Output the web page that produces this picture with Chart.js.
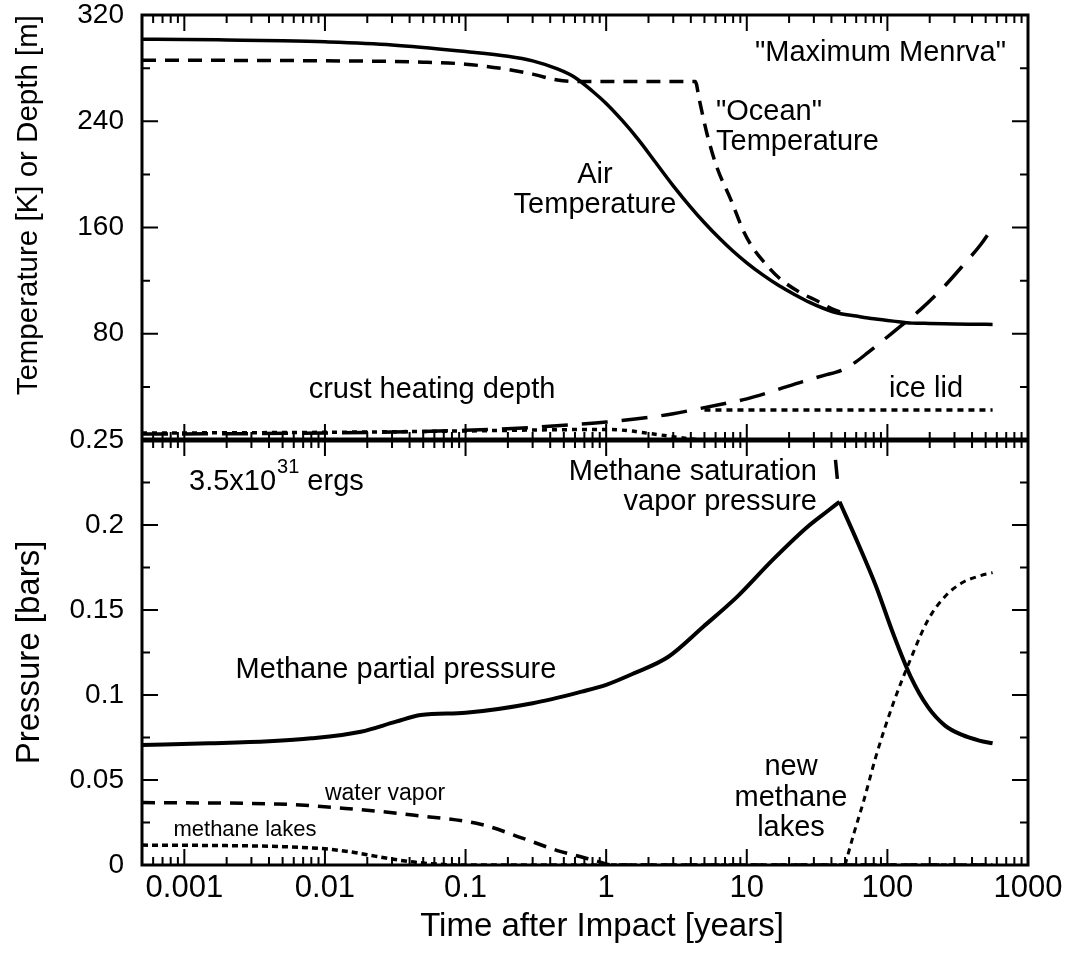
<!DOCTYPE html>
<html>
<head>
<meta charset="utf-8">
<title>Maximum Menrva</title>
<script src="https://cdn.jsdelivr.net/npm/chart.js@4.4.1/dist/chart.umd.min.js"></script>
<style>
  html, body { margin: 0; padding: 0; background: #fff; }
  #wrap { width: 1073px; height: 954px; position: relative; }
</style>
</head>
<body>
<div id="wrap"><canvas id="impactChart"></canvas></div>
<script>
// time axis, years after impact
const xMin = 0.0005;
const xMax = 1000;
const xTicks = [0.001, 0.01, 0.1, 1, 10, 100, 1000];
const xTickLabels = ['0.001', '0.01', '0.1', '1', '10', '100', '1000'];

// upper panel: temperature [K] or depth [m]
const tempTicks = [80, 160, 240, 320];
const tempTickLabels = ['80', '160', '240', '320'];
const tempMinorTicks = [40, 120, 200, 280];

// lower panel: pressure [bars]
const pressTicks = [0, 0.05, 0.1, 0.15, 0.2, 0.25];
const pressTickLabels = ['0', '0.05', '0.1', '0.15', '0.2', '0.25'];
const pressMinorTicks = [0.025, 0.075, 0.125, 0.175, 0.225];

// air temperature (K)
const airTime = [0.0005, 0.001, 0.002, 0.005, 0.01, 0.03, 0.1, 0.2, 0.3, 0.45, 0.6, 0.8, 1, 1.3, 1.7, 2.2, 3, 4, 5, 6.5, 8, 10, 13, 17, 22, 28, 35, 45, 60, 80, 110, 150, 200, 300, 400, 560];
const airTemp = [301.8, 301.6, 301.2, 300.6, 299.8, 297.5, 292.5, 289, 285.5, 279.4, 273, 262.6, 253.4, 240.6, 226, 210.3, 191.4, 175.2, 163.6, 151.1, 142.1, 133.4, 124.3, 116.1, 109.4, 103.6, 99.2, 95.4, 93.3, 91.3, 89.5, 88, 87.8, 87.4, 87.2, 87];

// "ocean" temperature (K)
const oceanTime = [0.0005, 0.01, 0.05, 0.1, 0.2, 0.3, 0.45, 0.6, 4.3, 4.6, 5.2, 6.1, 7.7, 9.6, 11, 13, 17, 24, 32, 40, 50];
const oceanTemp = [286, 285.5, 284.5, 283, 279, 275.5, 271, 270, 270, 256, 231, 206, 181, 156, 145, 135, 122, 111, 104.5, 99, 95];

// crust heating depth (m)
const crustTime = [0.0005, 0.003, 0.01, 0.03, 0.1, 0.3, 0.6, 1, 2, 3, 4.3, 7, 10, 15, 25, 35, 47, 60, 73, 108, 171, 253, 355, 460, 560];
const crustDepth = [4.5, 4.8, 5.3, 6, 7.3, 9.5, 11.6, 13.5, 17, 19.8, 23, 27.5, 31, 36.5, 44, 48.5, 52.5, 59, 66, 80.5, 98, 115.5, 133, 147, 160];

// ice lid thickness (m)
const iceTime = [5, 560];
const iceDepth = [22.5, 22.5];

// original lake depth (m)
const lakeTime = [0.0005, 0.01, 0.1, 0.3, 1, 1.5, 2, 3, 4, 4.8];
const lakeDepth = [5.2, 5.8, 6.8, 7.5, 8, 6.8, 5, 2.5, 0.8, 0];

// methane partial pressure (bars)
const methTime = [0.0005, 0.0015, 0.004, 0.008, 0.018, 0.032, 0.048, 0.1, 0.3, 0.67, 1, 1.57, 2.77, 4.88, 8.6, 15.1, 26.7, 38, 45.7, 62, 83, 110, 146, 194, 257, 340, 450, 560];
const methPress = [0.0706, 0.0716, 0.0728, 0.0745, 0.0784, 0.0843, 0.0882, 0.0896, 0.0952, 0.102, 0.106, 0.1127, 0.1225, 0.14, 0.158, 0.179, 0.1985, 0.2085, 0.2137, 0.189, 0.164, 0.136, 0.111, 0.093, 0.082, 0.0765, 0.0732, 0.0716];

// methane saturation vapor pressure (bars)
const satTime = [41.4, 45.7];
const satPress = [0.25, 0.2137];

// water vapor (bars)
const vapTime = [0.0005, 0.0045, 0.014, 0.042, 0.13, 0.25, 0.45, 0.65, 0.88, 1.1, 560];
const vapPress = [0.0367, 0.0359, 0.0333, 0.0294, 0.0238, 0.016, 0.0085, 0.005, 0.002, 0, 0];

// methane lakes (bars)
const lakesTime = [0.0005, 0.002, 0.005, 0.01, 0.015, 0.02, 0.03, 0.045, 0.07, 0.1, 560];
const lakesPress = [0.0117, 0.0114, 0.0108, 0.0095, 0.0078, 0.006, 0.0035, 0.0015, 0.0003, 0, 0];

// new methane lakes (bars)
const newLakesTime = [50, 58, 68, 83, 110, 146, 194, 257, 340, 450, 560];
const newLakesPress = [0, 0.019, 0.038, 0.064, 0.095, 0.121, 0.144, 0.158, 0.166, 0.17, 0.172];

const FONT = "'Liberation Sans', Arial, Helvetica, sans-serif";

function series(times, values) {
    return times.map((t, i) => ({ x: t, y: values[i] }));
}

function lineSet(label, points, axis, width, dash, dashOffset) {
    return {
        label: label,
        data: points,
        yAxisID: axis,
        borderColor: '#000',
        backgroundColor: '#000',
        borderWidth: width,
        borderDash: dash || [],
        borderDashOffset: dashOffset || 0,
        pointRadius: 0,
        pointHoverRadius: 0,
        cubicInterpolationMode: 'monotone',
        fill: false
    };
}

// the partial pressure peaks sharply where it meets saturation, so the
// rise and the fall are smoothed separately
const methPoints = series(methTime, methPress);
const peakIdx = methPress.indexOf(Math.max(...methPress));

// text placed inside the plot (x, baseline y in canvas pixels)
const notes = [
    { text: '"Maximum Menrva"', x: 1006, y: 61, align: 'right', size: 29 },
    { text: '"Ocean"', x: 716, y: 120, align: 'left', size: 29 },
    { text: 'Temperature', x: 716, y: 150, align: 'left', size: 29 },
    { text: 'Air', x: 595, y: 183, align: 'center', size: 29 },
    { text: 'Temperature', x: 595, y: 213, align: 'center', size: 29 },
    { text: 'crust heating depth', x: 432, y: 398, align: 'center', size: 29 },
    { text: 'ice lid', x: 926, y: 397, align: 'center', size: 29 },
    { text: 'Methane saturation', x: 817, y: 480, align: 'right', size: 29 },
    { text: 'vapor pressure', x: 817, y: 510, align: 'right', size: 29 },
    { text: 'Methane partial pressure', x: 396, y: 678, align: 'center', size: 29 },
    { text: 'water vapor', x: 385, y: 800, align: 'center', size: 23 },
    { text: 'methane lakes', x: 245, y: 836, align: 'center', size: 22 },
    { text: 'new', x: 791, y: 775, align: 'center', size: 29 },
    { text: 'methane', x: 791, y: 806, align: 'center', size: 29 },
    { text: 'lakes', x: 791, y: 836, align: 'center', size: 29 },
    { text: 'Time after Impact [years]', x: 602, y: 936, align: 'center', size: 33 }
];

// inward ticks on every side, the box and the thick divider between panels
const axesFrame = {
    id: 'axesFrame',
    afterDatasetsDraw(chart) {
        const { ctx, chartArea: a, scales } = chart;
        const x = scales.x, yT = scales.yT, yP = scales.yP;
        const mid = yT.bottom;
        ctx.save();
        ctx.strokeStyle = '#000';
        ctx.lineWidth = 2;
        ctx.beginPath();
        for (let p = -4; p <= 3; p++) {
            for (let m = 1; m <= 9; m++) {
                const v = m * Math.pow(10, p);
                if (v <= xMin * 1.0001 || v >= xMax) continue;
                const px = x.getPixelForValue(v);
                const len = m === 1 ? 16 : 8;
                ctx.moveTo(px, a.top); ctx.lineTo(px, a.top + len);
                ctx.moveTo(px, mid - len); ctx.lineTo(px, mid + len);
                ctx.moveTo(px, a.bottom); ctx.lineTo(px, a.bottom - len);
            }
        }
        const sideTicks = (scale, values, len) => {
            values.forEach(v => {
                const py = scale.getPixelForValue(v);
                ctx.moveTo(a.left, py); ctx.lineTo(a.left + len, py);
                ctx.moveTo(a.right, py); ctx.lineTo(a.right - len, py);
            });
        };
        sideTicks(yT, tempTicks, 16);
        sideTicks(yT, tempMinorTicks, 8);
        sideTicks(yP, pressTicks, 16);
        sideTicks(yP, pressMinorTicks, 8);
        ctx.stroke();

        ctx.lineWidth = 3;
        ctx.strokeRect(a.left, a.top, a.right - a.left, a.bottom - a.top);
        ctx.lineWidth = 5;
        ctx.beginPath();
        ctx.moveTo(a.left, mid);
        ctx.lineTo(a.right, mid);
        ctx.stroke();
        ctx.restore();
    }
};

const notesPlugin = {
    id: 'notes',
    afterDraw(chart) {
        const ctx = chart.ctx;
        ctx.save();
        ctx.fillStyle = '#000';
        ctx.textBaseline = 'alphabetic';
        notes.forEach(n => {
            ctx.font = n.size + 'px ' + FONT;
            ctx.textAlign = n.align;
            ctx.fillText(n.text, n.x, n.y);
        });

        // impact energy with its exponent
        ctx.textAlign = 'left';
        let cx = 189;
        ctx.font = '29px ' + FONT;
        ctx.fillText('3.5x10', cx, 490);
        cx += ctx.measureText('3.5x10').width + 1;
        ctx.font = '20px ' + FONT;
        ctx.fillText('31', cx, 473);
        cx += ctx.measureText('31').width;
        ctx.font = '29px ' + FONT;
        ctx.fillText(' ergs', cx, 490);
        ctx.restore();
    }
};

new Chart(document.getElementById('impactChart'), {
    type: 'line',
    data: {
        datasets: [
            lineSet('Air Temperature', series(airTime, airTemp), 'yT', 3.5),
            lineSet('Ocean Temperature', series(oceanTime, oceanTemp), 'yT', 3.5, [14, 9]),
            lineSet('crust heating depth', series(crustTime, crustDepth), 'yT', 3.5, [26, 14]),
            lineSet('ice lid', series(iceTime, iceDepth), 'yT', 3.5, [6, 5]),
            lineSet('lake depth', series(lakeTime, lakeDepth), 'yT', 3.5, [5, 5]),
            lineSet('Methane partial pressure', methPoints.slice(0, peakIdx + 1), 'yP', 4),
            lineSet('Methane partial pressure (falling)', methPoints.slice(peakIdx), 'yP', 4),
            lineSet('Methane saturation vapor pressure', series(satTime, satPress), 'yP', 3.5, [19, 23], 22),
            lineSet('water vapor', series(vapTime, vapPress), 'yP', 3.5, [13, 9]),
            lineSet('methane lakes', series(lakesTime, lakesPress), 'yP', 3.5, [6, 4]),
            lineSet('new methane lakes', series(newLakesTime, newLakesPress), 'yP', 3, [6, 5])
        ]
    },
    options: {
        responsive: true,
        maintainAspectRatio: false,
        animation: false,
        events: [],
        layout: { padding: { top: 15, right: 45, bottom: 0, left: 0 } },
        plugins: {
            legend: { display: false },
            tooltip: { enabled: false }
        },
        scales: {
            x: {
                type: 'logarithmic',
                position: 'bottom',
                min: xMin,
                max: xMax,
                afterBuildTicks: s => { s.ticks = xTicks.map(v => ({ value: v })); },
                afterFit: s => { s.height = 89; s.paddingLeft = 0; s.paddingRight = 0; },
                grid: { display: false, drawTicks: false },
                border: { display: false },
                ticks: {
                    autoSkip: false,
                    maxRotation: 0,
                    minRotation: 0,
                    padding: 5,
                    color: '#000',
                    font: { family: FONT, size: 31 },
                    callback: (v, i) => xTickLabels[i]
                },
                title: { display: false }
            },
            yP: {
                type: 'linear',
                position: 'left',
                stack: 'panels',
                stackWeight: 1,
                weight: 0,
                min: 0,
                max: 0.25,
                afterBuildTicks: s => { s.ticks = pressTicks.map(v => ({ value: v })); },
                afterFit: s => { s.width = 142; s.paddingTop = 0; s.paddingBottom = 0; },
                grid: { display: false, drawTicks: false },
                border: { display: false },
                ticks: {
                    padding: 18,
                    color: '#000',
                    font: { family: FONT, size: 28 },
                    callback: (v, i) => pressTickLabels[i]
                },
                title: {
                    display: true,
                    text: 'Pressure [bars]',
                    color: '#000',
                    font: { family: FONT, size: 33 },
                    padding: { top: 10, bottom: 0 }
                }
            },
            yT: {
                type: 'linear',
                position: 'left',
                stack: 'panels',
                stackWeight: 1,
                weight: 1,
                min: 0,
                max: 320,
                afterBuildTicks: s => { s.ticks = tempTicks.map(v => ({ value: v })); },
                afterFit: s => { s.width = 142; s.paddingTop = 0; s.paddingBottom = 0; },
                grid: { display: false, drawTicks: false },
                border: { display: false },
                ticks: {
                    padding: 18,
                    color: '#000',
                    font: { family: FONT, size: 28 },
                    callback: (v, i) => tempTickLabels[i]
                },
                title: {
                    display: true,
                    text: 'Temperature [K] or Depth [m]',
                    align: 'end',
                    color: '#000',
                    font: { family: FONT, size: 29.5 },
                    padding: { top: 11, bottom: 0 }
                }
            }
        }
    },
    plugins: [axesFrame, notesPlugin]
});
</script>
</body>
</html>
